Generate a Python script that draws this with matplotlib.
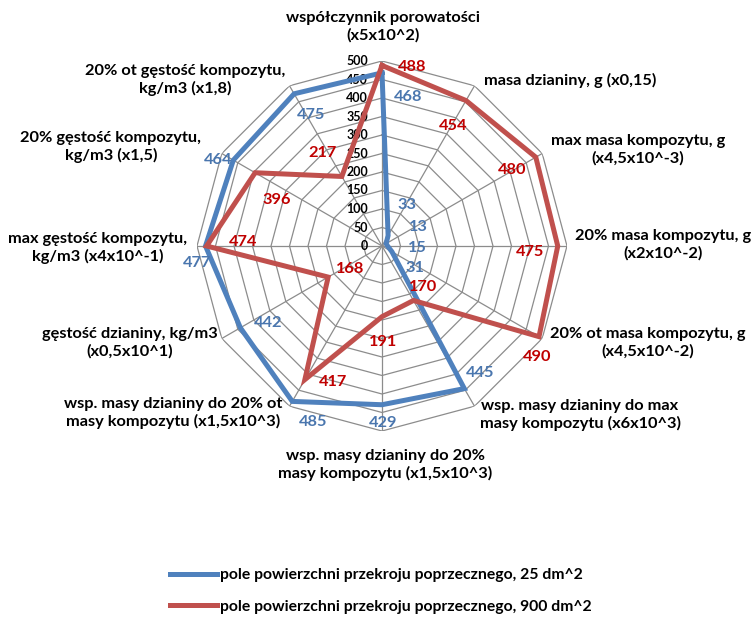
import numpy as np
import matplotlib
matplotlib.use("Agg")
import matplotlib.pyplot as plt
from matplotlib.lines import Line2D

plt.rcParams['font.family'] = ['Lato', 'DejaVu Sans']
plt.rcParams['font.weight'] = 'bold'

categories = [
    "współczynnik porowatości\n(x5x10^2)",
    "masa dzianiny, g (x0,15)",
    "max masa kompozytu, g\n(x4,5x10^-3)",
    "20% masa kompozytu, g\n(x2x10^-2)",
    "20% ot masa kompozytu, g\n(x4,5x10^-2)",
    "wsp. masy dzianiny do max\nmasy kompozytu (x6x10^3)",
    "wsp. masy dzianiny do 20%\nmasy kompozytu (x1,5x10^3)",
    "wsp. masy dzianiny do 20% ot\nmasy kompozytu (x1,5x10^3)",
    "gęstość dzianiny, kg/m3\n(x0,5x10^1)",
    "max gęstość kompozytu,\nkg/m3 (x4x10^-1)",
    "20% gęstość kompozytu,\nkg/m3 (x1,5)",
    "20% ot gęstość kompozytu,\nkg/m3 (x1,8)",
]
blue_vals = [468, 33, 13, 15, 31, 445, 429, 485, 442, 477, 464, 475]
red_vals = [488, 454, 480, 475, 490, 170, 191, 417, 168, 474, 396, 217]
series_names = ["pole powierzchni przekroju poprzecznego, 25 dm^2",
                "pole powierzchni przekroju poprzecznego, 900 dm^2"]
r_ticks = list(range(0, 501, 50))

BLUE = "#4F81BD"
RED = "#C0504D"
BLUE_TXT = "#4A76AE"
RED_TXT = "#C00000"
GRID = "#8C8C8C"

W, H = 755, 619
fig = plt.figure(figsize=(W / 100, H / 100), dpi=100)

# polar axes centred on the web, radius 185 px
cx, cy, R = 382, 246, 185
ax = fig.add_axes([(cx - R) / W, (H - cy - R) / H, 2 * R / W, 2 * R / H],
                  polar=True)
ax.set_theta_zero_location('N')
ax.set_theta_direction(-1)
ax.set_ylim(0, 500)
ax.grid(False)
ax.spines['polar'].set_visible(False)
ax.set_xticks([])
ax.set_yticks([])
ax.patch.set_alpha(0)

n = len(categories)
theta = np.arange(n) * 2 * np.pi / n
theta_c = np.append(theta, theta[0])

# polygon grid and spokes
for r in r_ticks[1:]:
    ax.plot(theta_c, [r] * (n + 1), color=GRID, lw=0.9, zorder=1)
for t in theta:
    ax.plot([t, t], [0, 500], color=GRID, lw=0.9, zorder=1)

# radial scale on the top spoke
for r in r_ticks:
    ax.annotate(str(r), (0, r), xytext=(-14, 0), textcoords='offset pixels',
                ha='right', va='center', fontsize=9, color='black')

ax.plot(theta_c, blue_vals + blue_vals[:1], color=BLUE, lw=3.6, zorder=3,
        solid_joinstyle='miter')
ax.plot(theta_c, red_vals + red_vals[:1], color=RED, lw=3.6, zorder=3,
        solid_joinstyle='miter')

# data label offsets in pixels (dx right, dy down)
blue_off = [(26, 24), (19, -30), (32, -17), (30, 2), (23, 16), (16, -16),
            (1, 18), (21, 21), (28, -5), (-8, 17), (-15, 0), (17, 21)]
red_off = [(30, 2), (-13, 25), (-24, 13), (-28, 6), (-2, 20), (10, -13),
           (1, 25), (28, 2), (22, -8), (36, -4), (22, 27), (-19, -23)]

for t, v, (dx, dy) in zip(theta, blue_vals, blue_off):
    ax.annotate(str(v), (t, v), xytext=(dx, -dy), textcoords='offset pixels',
                ha='center', va='center', fontsize=11.8, color=BLUE_TXT,
                zorder=5)
for t, v, (dx, dy) in zip(theta, red_vals, red_off):
    ax.annotate(str(v), (t, v), xytext=(dx, -dy), textcoords='offset pixels',
                ha='center', va='center', fontsize=11.8, color=RED_TXT,
                zorder=5)

# category labels around the web (pixel centres)
cat_pos = [(383, 27), (570, 80), (638, 150), (663, 245), (648, 343),
           (580, 415), (385, 465), (173, 413), (130, 343), (98, 248),
           (111, 147), (185, 80)]
for label, (x, y) in zip(categories, cat_pos):
    fig.text(x / W, 1 - y / H, label, ha='center', va='center',
             fontsize=11.8, linespacing=1.25)

handles = [Line2D([], [], color=BLUE, lw=3.6),
           Line2D([], [], color=RED, lw=3.6)]
fig.legend(handles, series_names, loc='center left',
           bbox_to_anchor=(156 / W, 1 - 591 / H), frameon=False,
           fontsize=11.3, handlelength=3.0, handletextpad=0.2,
           labelspacing=1.1)

fig.savefig("out.png", dpi=100)
